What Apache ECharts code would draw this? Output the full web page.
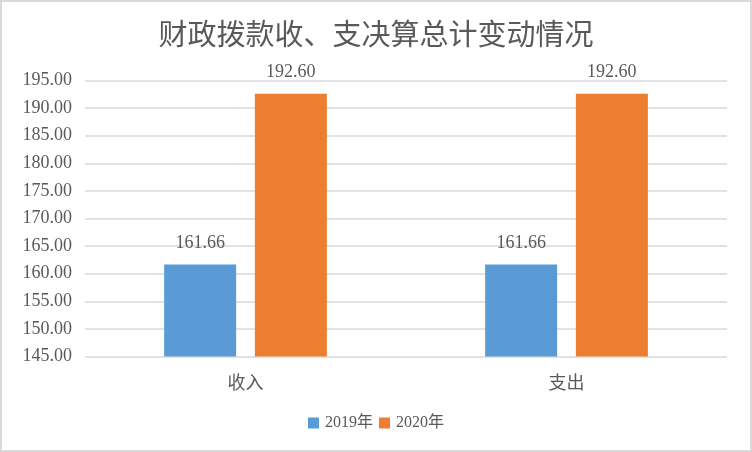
<!DOCTYPE html>
<html>
<head>
<meta charset="utf-8">
<script src="https://cdn.jsdelivr.net/npm/echarts@6/dist/echarts.min.js"></script>
<style>
html,body{margin:0;padding:0;background:#fff;}
#c{width:752px;height:452px;}
</style>
</head>
<body>
<div id="c"></div>
<script>
var categories = ['收入', '支出'];
var seriesNames = ['2019年', '2020年'];
var values2019 = [161.66, 161.66];
var values2020 = [192.60, 192.60];
var yTicks = { min: 145, max: 195, interval: 5 };

var FONT = '"Liberation Serif", "Noto Sans CJK SC", serif';
var TXT = '#595959';

var chart = echarts.init(document.getElementById('c'));
var labelOpt = {
  show: true,
  position: 'top',
  distance: 12,
  color: TXT,
  fontSize: 18,
  fontFamily: FONT,
  formatter: function (p) { return p.value.toFixed(2); }
};
chart.setOption({
  animation: false,
  backgroundColor: '#fff',
  graphic: [{
    type: 'rect',
    shape: { x: 1, y: 1, width: 750, height: 450 },
    style: { fill: 'none', stroke: '#D9D9D9', lineWidth: 2 },
    silent: true
  }],
  title: {
    text: '财政拨款收、支决算总计变动情况',
    left: 'center',
    top: 14,
    textStyle: { color: TXT, fontSize: 29, fontWeight: 'normal', fontFamily: '"Noto Sans CJK SC", sans-serif' }
  },
  legend: {
    bottom: 16,
    left: 'center',
    itemWidth: 11,
    itemHeight: 11,
    itemGap: 6,
    icon: 'rect',
    textStyle: { color: TXT, fontSize: 16, fontFamily: FONT, padding: [0, 0, 0, 1] },
    data: seriesNames
  },
  grid: { left: 85, right: 25, top: 80.5, bottom: 95.5, containLabel: false },
  xAxis: {
    type: 'category',
    data: categories,
    axisLine: { show: false },
    axisTick: { show: false },
    axisLabel: { color: TXT, fontSize: 18, margin: 17, fontFamily: '"Noto Sans CJK SC", sans-serif' }
  },
  yAxis: {
    type: 'value',
    min: yTicks.min,
    max: yTicks.max,
    interval: yTicks.interval,
    axisLine: { show: false },
    axisTick: { show: false },
    splitLine: { lineStyle: { color: '#D9D9D9', width: 1.5 } },
    axisLabel: {
      color: TXT, fontSize: 18, margin: 13, fontFamily: FONT,
      formatter: function (v) { return v.toFixed(2); }
    }
  },
  series: [
    { name: seriesNames[0], type: 'bar', data: values2019, barWidth: 72, barGap: '26%',
      itemStyle: { color: '#5B9BD5' }, label: labelOpt },
    { name: seriesNames[1], type: 'bar', data: values2020, barWidth: 72, barGap: '26%',
      itemStyle: { color: '#ED7D31' }, label: labelOpt }
  ]
});
</script>
</body>
</html>
